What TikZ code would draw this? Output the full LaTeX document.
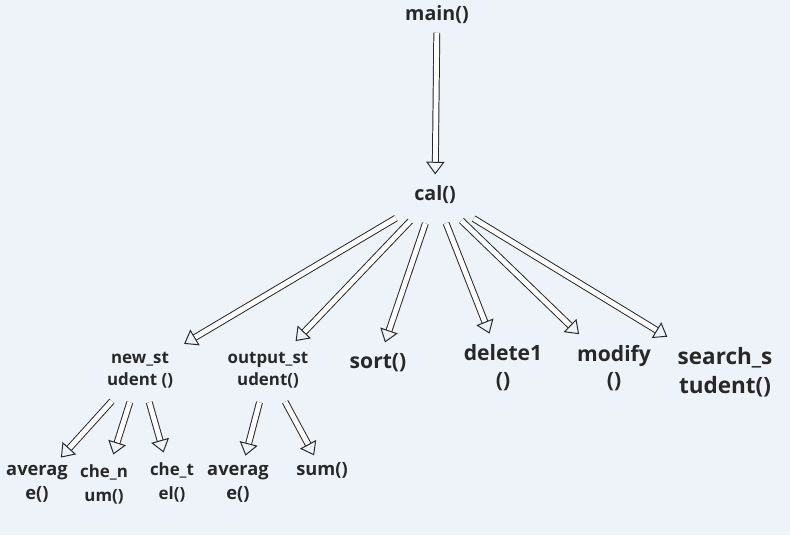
\documentclass[tikz,border=0pt]{standalone}
\usepackage{fontspec}
\setmainfont{Open Sans}
\usetikzlibrary{arrows.meta, positioning}
\definecolor{bgblue}{RGB}{238,243,250}
\definecolor{textgray}{RGB}{40,40,40}

\begin{document}
\begin{tikzpicture}[x=0.025cm, y=-0.025cm,
        func/.style={align=center, font=\bfseries\fontsize{14}{16}\selectfont, text=textgray, inner sep=6pt},
        small/.style={func, font=\bfseries\fontsize{12}{16}\selectfont},
        leaf/.style={func, inner sep=1pt, font=\bfseries\fontsize{13}{17}\selectfont},
        arrow/.style={double=white, double distance=3.5pt, line width=0.7pt, draw=textgray,
            -{Triangle[open, length=9pt, width=13pt, line width=0.7pt]}, shorten >=2pt}
    ]
        \fill[bgblue] (0,0) rectangle (790,535);
        \useasboundingbox (0,0) rectangle (790,535);

        \node[func] (main) at (437,15) {main()};
        \node[func] (cal) at (435,195) {cal()};

        \node[small] (newstu) at (140,370) {new\_st\\udent ()};
        \node[small] (outstu) at (268,370) {output\_st\\udent()};
        \node[func, font=\bfseries\fontsize{15}{17}\selectfont] (sort) at (378,363) {sort()};
        \node[func, font=\bfseries\fontsize{15}{19}\selectfont] (delete) at (503,368) {delete1\\()};
        \node[func, font=\bfseries\fontsize{15}{19}\selectfont] (modify) at (614,368) {modify\\()};
        \node[func, font=\bfseries\fontsize{16}{21}\selectfont] (search) at (725,372) {search\_s\\tudent()};

        \node[leaf] (avg1) at (37,484) {averag\\e()};
        \node[leaf, font=\bfseries\fontsize{12}{17}\selectfont] (chenum) at (104,484) {che\_n\\um()};
        \node[leaf, font=\bfseries\fontsize{12}{17}\selectfont] (chetel) at (172,482) {che\_t\\el()};
        \node[leaf] (avg2) at (238,484) {averag\\e()};
        \node[leaf] (sum) at (322,470) {sum()};

        \draw[arrow] (main) -- (cal);
        \draw[arrow, shorten <=8pt] (cal) -- (newstu);
        \draw[arrow, shorten <=8pt] (cal) -- (outstu);
        \draw[arrow, shorten <=8pt] (cal) -- (sort);
        \draw[arrow, shorten <=8pt] (cal) -- (delete);
        \draw[arrow, shorten <=8pt] (cal) -- (modify);
        \draw[arrow, shorten <=8pt] (cal) -- (search);

        \draw[arrow, shorten <=4pt, shorten >=6pt] (newstu) -- (avg1);
        \draw[arrow, shorten <=4pt, shorten >=6pt] (newstu) -- (chenum);
        \draw[arrow, shorten <=4pt, shorten >=6pt] (newstu) -- (chetel);
        \draw[arrow, shorten <=4pt, shorten >=6pt] (outstu) -- (avg2);
        \draw[arrow, shorten <=4pt, shorten >=4pt] (outstu) -- (sum);
\end{tikzpicture}
\end{document}
